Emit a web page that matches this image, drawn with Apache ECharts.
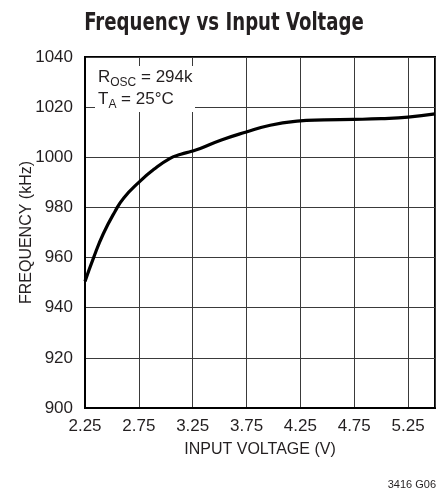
<!DOCTYPE html>
<html>
<head>
<meta charset="utf-8">
<script src="https://cdn.jsdelivr.net/npm/echarts@6/dist/echarts.min.js"></script>
<style>html,body{margin:0;padding:0;background:#fff;}#c{width:445px;height:491px;}</style>
</head>
<body>
<div id="c"></div>
<script>
const voltage = [2.25, 2.33, 2.42, 2.53, 2.61, 2.75, 2.89, 3.04, 3.14, 3.24, 3.32, 3.51, 3.74, 3.97, 4.22, 4.47, 4.74, 5.0, 5.25, 5.5];
const frequency = [950.5, 960, 969.5, 978.5, 983.8, 990, 995.2, 999.6, 1001.2, 1002.4, 1003.5, 1006.8, 1010, 1012.8, 1014.4, 1014.9, 1015.1, 1015.4, 1016, 1017.3];
const xTicks = [2.25, 2.75, 3.25, 3.75, 4.25, 4.75, 5.25];
const yTicks = [900, 920, 940, 960, 980, 1000, 1020, 1040];

const FONT = "'Liberation Sans', Arial, sans-serif";
const NARROW = "'DejaVu Sans Condensed', 'DejaVu Sans', sans-serif";

const chart = echarts.init(document.getElementById('c'), null, {renderer: 'canvas'});
chart.setOption({
  animation: false,
  backgroundColor: '#fff',
  grid: {left: 85, right: 10, top: 57, bottom: 83, show: true, borderColor: '#000', borderWidth: 2, backgroundColor: 'transparent'},
  xAxis: {
    type: 'value',
    min: 2.25, max: 5.5, interval: 0.5,
    name: 'INPUT VOLTAGE (V)',
    nameLocation: 'middle',
    nameGap: 34,
    nameMoveOverlap: false,
    nameTextStyle: {fontFamily: FONT, fontSize: 16, color: '#231f20'},
    axisLine: {show: true, lineStyle: {color: '#000', width: 2}},
    axisTick: {show: false},
    axisLabel: {
      fontFamily: FONT, fontSize: 17, color: '#231f20', margin: 10,
      showMaxLabel: false,
      formatter: v => xTicks.includes(Math.round(v * 100) / 100) ? v.toFixed(2) : ''
    },
    splitLine: {show: true, lineStyle: {color: '#3a3a3a', width: 1}}
  },
  yAxis: {
    type: 'value',
    min: 900, max: 1040, interval: 20,
    name: 'FREQUENCY (kHz)',
    nameLocation: 'middle',
    nameGap: 50,
    nameMoveOverlap: false,
    nameTextStyle: {fontFamily: FONT, fontSize: 16, color: '#231f20'},
    axisLine: {show: true, lineStyle: {color: '#000', width: 2}},
    axisTick: {show: false},
    axisLabel: {
      fontFamily: FONT, fontSize: 17, color: '#231f20', margin: 12,
      formatter: v => yTicks.includes(v) ? String(v) : ''
    },
    splitLine: {show: true, lineStyle: {color: '#3a3a3a', width: 1}}
  },
  series: [{
    type: 'line',
    data: voltage.map((v, i) => [v, frequency[i]]),
    smooth: 0.5,
    showSymbol: false,
    lineStyle: {color: '#000', width: 3.2},
    z: 5
  }],
  graphic: [
    {
      type: 'text',
      x: 224, y: 24,
      scaleX: 0.84,
      z: 20,
      style: {
        text: 'Frequency vs Input Voltage',
        fontFamily: NARROW, fontWeight: 'bold', fontSize: 24, fill: '#231f20',
        align: 'center', verticalAlign: 'middle'
      }
    },
    {
      type: 'rect',
      shape: {x: 95, y: 66, width: 100, height: 46},
      style: {fill: '#fff'},
      z: 10
    },
    {
      type: 'text',
      left: 98, top: 69,
      z: 11,
      style: {
        text: '{a|R}{s|OSC}{a| = 294k}\n{a|T}{s|A}{a| = 25°C}',
        rich: {
          a: {fontFamily: FONT, fontSize: 17, lineHeight: 22, fill: '#231f20', verticalAlign: 'middle'},
          s: {fontFamily: FONT, fontSize: 12, lineHeight: 12, fill: '#231f20', verticalAlign: 'bottom'}
        }
      }
    },
    {
      type: 'text',
      right: 9, top: 479,
      style: {text: '3416 G06', fontFamily: FONT, fontSize: 11, fill: '#231f20'}
    }
  ]
});
</script>
</body>
</html>
